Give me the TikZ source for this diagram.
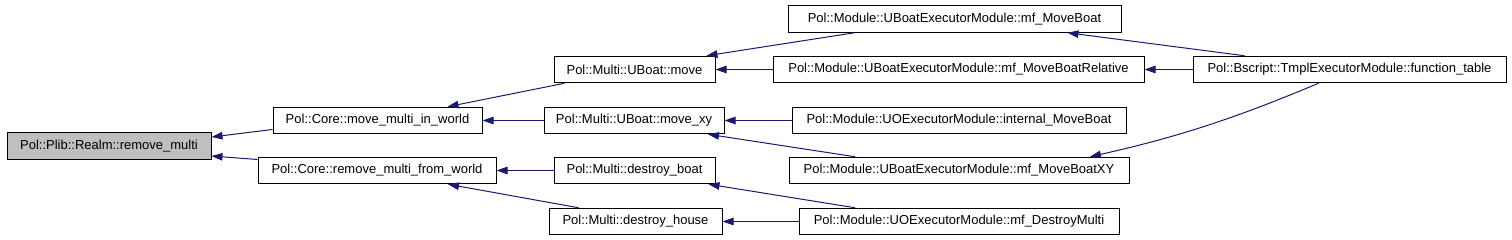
\documentclass[tikz,border=0pt]{standalone}
\usepackage{fontspec}
\setmainfont{Liberation Sans}
\usepackage{tikz}
\usetikzlibrary{arrows.meta,calc}
\definecolor{edgeblue}{HTML}{191970}
\definecolor{rootgray}{HTML}{BFBFBF}
\tikzset{every node/.append style={font=\fontsize{13}{15}\selectfont}}

\begin{document}
\begin{tikzpicture}[x=1pt,y=-1pt,>={Triangle[length=11pt,width=7.5pt]},
  fn/.style={draw,black,line width=1pt,minimum height=26.5pt,inner sep=0pt},
  call/.style={->,edgeblue,line width=1pt}]
  \useasboundingbox (0,0) rectangle (1512,240);
  % callee at the left, callers to the right
  \node[fn,fill=rootgray,minimum width=204pt] (root) at (109,146) {Pol::Plib::Realm::remove\_multi};
  \node[fn,minimum width=209pt] (mmiw) at (377.5,120.5) {Pol::Core::move\_multi\_in\_world};
  \node[fn,minimum width=238pt] (rmfw) at (377,170.5) {Pol::Core::remove\_multi\_from\_world};
  \node[fn,minimum width=161pt] (move) at (634.5,69.5) {Pol::Multi::UBoat::move};
  \node[fn,minimum width=180pt] (movexy) at (634,120.5) {Pol::Multi::UBoat::move\_xy};
  \node[fn,minimum width=161pt] (dboat) at (634.5,170.5) {Pol::Multi::destroy\_boat};
  \node[fn,minimum width=173pt] (dhouse) at (635.5,221.5) {Pol::Multi::destroy\_house};
  \node[fn,minimum width=333pt] (mfmb) at (954.5,19) {Pol::Module::UBoatExecutorModule::mf\_MoveBoat};
  \node[fn,minimum width=371pt] (mfmbr) at (958.5,69.5) {Pol::Module::UBoatExecutorModule::mf\_MoveBoatRelative};
  \node[fn,minimum width=334pt] (intmb) at (959,120.5) {Pol::Module::UOExecutorModule::internal\_MoveBoat};
  \node[fn,minimum width=340pt] (mfmbxy) at (959,170.5) {Pol::Module::UBoatExecutorModule::mf\_MoveBoatXY};
  \node[fn,minimum width=320pt] (mfdm) at (959,221.5) {Pol::Module::UOExecutorModule::mf\_DestroyMulti};
  \node[fn,minimum width=313pt] (ftab) at (1349.5,69.5) {Pol::Bscript::TmplExecutorModule::function\_table};

  \draw[call] ([yshift=-9]mmiw.west) -- ([yshift=9]root.east);
  \draw[call] ([yshift=11]rmfw.west) -- ([yshift=-10]root.east);
  \draw[call] ([xshift=-70]move.south) -- ([xshift=70]mmiw.north);
  \draw[call] (movexy.west) -- (mmiw.east);
  \draw[call] (dboat.west) -- (rmfw.east);
  \draw[call] ([xshift=-57]dhouse.north) -- ([xshift=71]rmfw.south);
  \draw[call] ([xshift=-100]mfmb.south) -- ([xshift=72]move.north);
  \draw[call] (mfmbr.west) -- (move.east);
  \draw[call] (intmb.west) -- (movexy.east);
  \draw[call] ([xshift=-104]mfmbxy.north) -- ([xshift=74]movexy.south);
  \draw[call] ([xshift=-104]mfdm.north) -- ([xshift=74]dboat.south);
  \draw[call] (mfdm.west) -- (dhouse.east);
  \draw[call] ([xshift=-105]ftab.north) -- ([xshift=113]mfmb.south);
  \draw[call] (ftab.west) -- (mfmbr.east);
  \draw[call] ([xshift=-31]ftab.south) .. controls +(-90,38) and +(80,-18) .. ([xshift=131]mfmbxy.north);
\end{tikzpicture}
\end{document}
